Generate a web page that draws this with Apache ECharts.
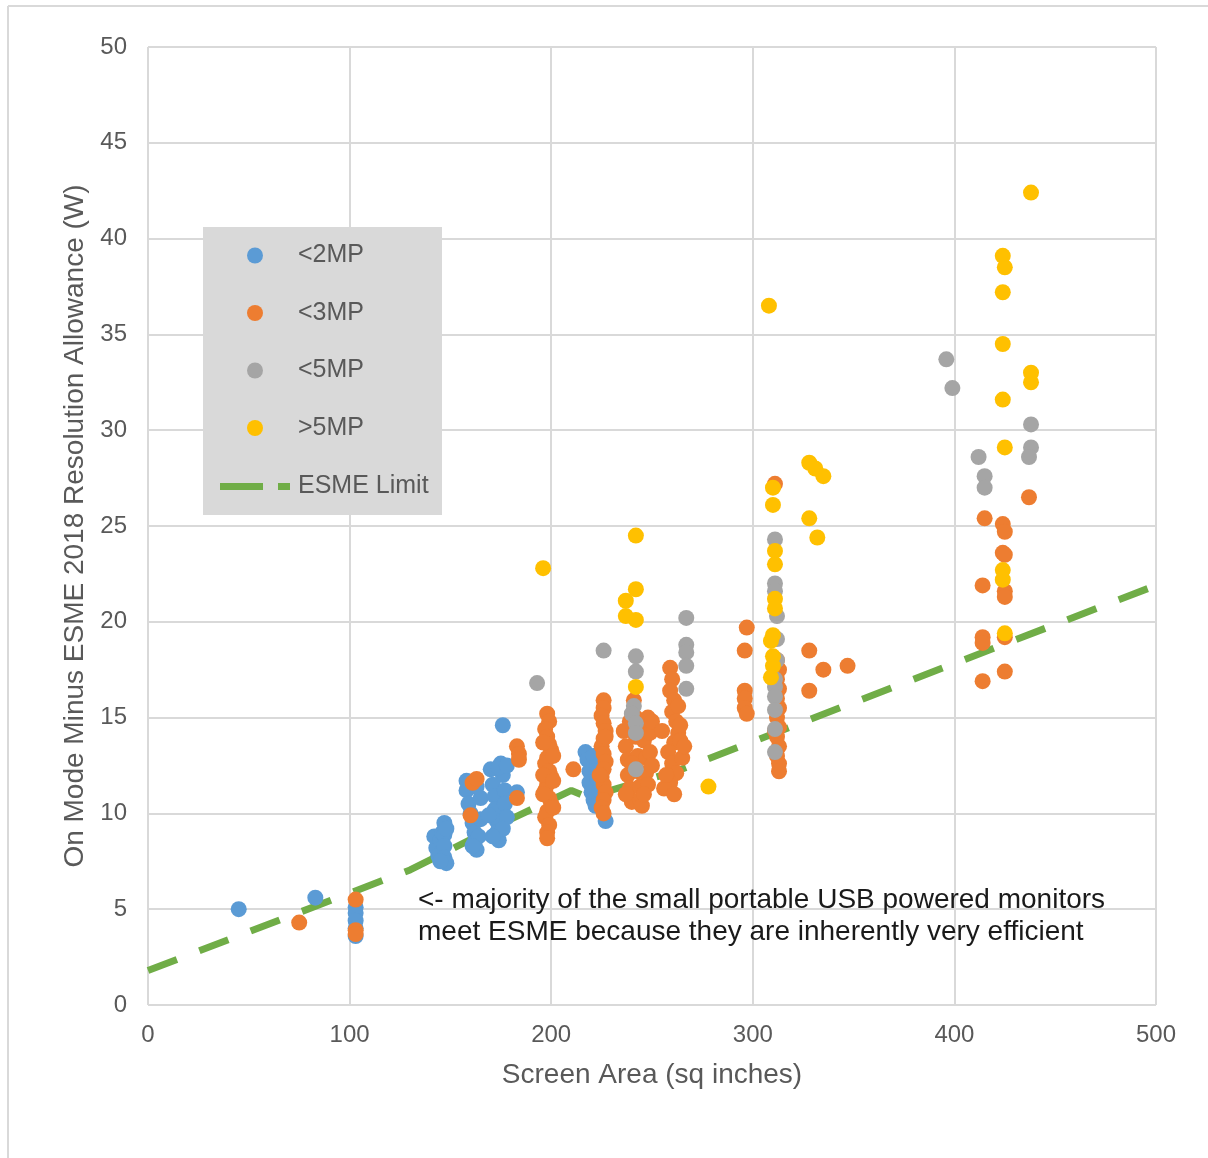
<!DOCTYPE html>
<html>
<head>
<meta charset="utf-8">
<script src="https://cdn.jsdelivr.net/npm/echarts@6/dist/echarts.min.js"></script>
<style>
html,body{margin:0;padding:0;background:#fff;}
#chart{width:1208px;height:1158px;}
</style>
</head>
<body>
<div id="chart"></div>
<script>
// ---- Data (screen area sq in, watts) ----
const seriesNames = ['<2MP', '<3MP', '<5MP', '>5MP'];
const legendLineName = 'ESME Limit';
const xTicks = [0, 100, 200, 300, 400, 500];
const yTicks = [0, 5, 10, 15, 20, 25, 30, 35, 40, 45, 50];

const under2MP = [
  [45,5.0],[83,5.6],[103,5.1],[103,4.8],[103,4.4],[103,4.0],[103,3.6],
  [142,8.8],[143,8.2],[144,7.8],[145,8.6],[146,9.0],[147,9.5],[147,8.9],[147,8.3],[147,7.7],[148,7.4],[145,7.5],[148,9.2],
  [158,11.7],[158,11.2],[159,10.5],[160,10.0],[161,9.5],[162,9.0],[162,8.5],[163,8.1],[164,8.8],[165,9.7],[165,10.8],[163,11.4],[161,8.3],
  [170,12.3],[171,11.5],[172,10.9],[172,10.2],[173,9.6],[173,9.0],[174,8.6],[175,12.6],[176,12.0],[177,11.2],[177,10.5],[178,9.8],[176,9.2],[174,12.4],[171,8.8],[169,9.9],[178,12.5],[176,14.6],
  [183,11.1],
  [217,13.2],[218,12.8],[219,12.2],[219,11.6],[220,11.1],[221,10.7],[222,10.4],[223,12.5],[223,11.8],[221,13.0],[224,11.2],[227,9.6]
];
const under3MP = [
  [75,4.3],[103,5.5],[103,3.9],[103,3.7],
  [161,11.6],[163,11.8],[160,9.9],
  [183,13.5],[184,13.1],[184,12.8],[183,10.8],
  [198,15.2],[199,14.8],[197,14.4],[198,14.0],[199,13.6],[200,13.3],[198,12.9],[197,12.6],[199,12.2],[200,11.9],[198,11.5],[197,11.2],[199,10.8],[200,10.5],[198,10.1],[197,9.8],[199,9.4],[198,9.0],[198,8.7],[196,12.0],[201,11.7],[201,13.0],[196,13.7],[201,10.3],[196,11.0],
  [211,12.3],
  [226,15.9],[226,15.5],[225,15.1],[226,14.7],[227,14.3],[226,13.9],[225,13.5],[226,13.1],[227,12.7],[226,12.3],[225,11.9],[226,11.5],[227,11.1],[226,10.7],[225,10.3],[226,10.0],[227,14.0],[224,12.0],
  [236,14.3],[237,13.5],[238,12.8],[238,12.0],[239,11.3],[240,10.6],[241,15.9],[242,15.0],[242,14.0],[243,13.0],[243,12.2],[244,11.4],[244,10.7],[245,14.6],[246,13.8],[247,12.9],[247,12.1],[248,11.5],[248,15.0],[249,14.2],[249,13.2],[250,12.5],[240,12.6],[237,11.0],[245,10.4],[250,14.8],[239,14.8],[246,11.0],
  [259,17.6],[260,17.0],[259,16.4],[261,15.9],[260,15.3],[262,14.8],[263,14.2],[261,13.7],[258,13.2],[260,12.6],[262,12.1],[259,11.6],[256,11.3],[264,13.8],[265,12.9],[264,14.6],[266,13.5],[263,15.6],[255,14.3],[257,12.0],[261,11.0],
  [297,19.7],[296,18.5],[296,16.4],[296,16.0],[296,15.5],[297,15.2],
  [311,27.2],[312,18.0],[313,17.5],[312,17.0],[313,16.5],[312,16.0],[313,15.5],[312,15.0],[313,14.5],[312,14.0],[313,13.5],[312,13.0],[313,12.6],[313,12.2],[311,17.2],[311,14.3],
  [328,18.5],[328,16.4],[335,17.5],[347,17.7],
  [415,25.4],[424,25.1],[425,24.7],[424,23.6],[425,23.5],[414,21.9],[425,21.6],[425,21.3],[414,19.2],[414,18.9],[425,19.2],[414,16.9],[425,17.4],[437,26.5]
];
const under5MP = [
  [193,16.8],[226,18.5],
  [242,18.2],[242,17.4],[241,15.6],[240,15.2],[242,14.7],[242,14.2],[242,12.3],
  [267,20.2],[267,18.8],[267,18.4],[267,17.7],[267,16.5],
  [311,24.3],[311,22.0],[311,21.6],[312,20.3],[312,19.1],[311,17.0],[311,16.6],[311,16.1],[311,15.4],[311,14.4],[311,13.2],[312,18.0],
  [396,33.7],[399,32.2],[412,28.6],[415,27.6],[415,27.0],[438,30.3],[438,29.1],[437,28.6]
];
const over5MP = [
  [196,22.8],
  [242,24.5],[242,21.7],[237,21.1],[237,20.3],[242,20.1],[242,16.6],
  [278,11.4],
  [308,36.5],
  [310,27.0],[310,26.1],[311,23.7],[311,23.0],[311,21.2],[311,20.7],[310,19.3],[309,19.0],[310,18.2],[310,17.7],[309,17.1],
  [328,28.3],[331,28.0],[335,27.6],[328,25.4],[332,24.4],
  [438,42.4],[424,39.1],[425,38.5],[424,37.2],[424,34.5],[438,33.0],[438,32.5],[424,31.6],[425,29.1],[424,22.7],[424,22.2],[425,19.4]
];
const esmeLimit = [[0,1.8],[130,7.05],[180,9.7],[192,10.3],[210,11.2],[218,10.85],[262,12.2],[500,21.9]];

const annotationLines = ['<- majority of the small portable USB powered monitors', 'meet ESME because they are inherently very efficient'];

// ---- Styles ----
const colors = ['#5B9BD5', '#ED7D31', '#A5A5A5', '#FFC000'];
const green = '#70AD47';
const font = '"Liberation Sans", Arial, sans-serif';
const textGray = '#595959';
const gridGray = '#D9D9D9';

const chart = echarts.init(document.getElementById('chart'), null, {renderer: 'canvas'});

const scatterData = [under2MP, under3MP, under5MP, over5MP];
const series = [{
  name: legendLineName,
  type: 'line',
  data: esmeLimit,
  symbol: 'none',
  z: 1,
  lineStyle: {color: green, width: 7, type: [31, 24], cap: 'butt'},
  itemStyle: {color: green},
  silent: true
}];
scatterData.forEach((d, i) => {
  series.push({
    name: seriesNames[i],
    type: 'scatter',
    data: d,
    symbol: 'circle',
    symbolSize: 16,
    z: 2 + i,
    itemStyle: {color: colors[i], opacity: 1}
  });
});

const legendText = {color: textGray, fontSize: 25, fontFamily: font};

const option = {
  backgroundColor: '#fff',
  animation: false,
  textStyle: {fontFamily: font},
  grid: {left: 148, right: 52, top: 47, bottom: 153, containLabel: false},
  xAxis: {
    type: 'value', min: 0, max: 500, interval: 100,
    name: 'Screen Area (sq inches)', nameLocation: 'middle', nameGap: 56,
    nameTextStyle: {color: textGray, fontSize: 28, fontFamily: font},
    axisLine: {show: false}, axisTick: {show: false},
    axisLabel: {color: textGray, fontSize: 24, margin: 18, fontFamily: font,
      formatter: v => xTicks.includes(v) ? String(v) : ''},
    splitLine: {show: true, lineStyle: {color: gridGray, width: 2}}
  },
  yAxis: {
    type: 'value', min: 0, max: 50, interval: 5,
    name: 'On Mode Minus ESME 2018 Resolution Allowance (W)', nameLocation: 'middle', nameGap: 57,
    nameTextStyle: {color: textGray, fontSize: 28, fontFamily: font},
    axisLine: {show: false}, axisTick: {show: false},
    axisLabel: {color: textGray, fontSize: 24, margin: 21, fontFamily: font,
      formatter: v => yTicks.includes(v) ? String(v) : ''},
    splitLine: {show: true, lineStyle: {color: gridGray, width: 2}}
  },
  legend: [{
    orient: 'vertical',
    left: 247, top: 243,
    itemWidth: 16, itemHeight: 16, itemGap: 32.5,
    padding: 0,
    textStyle: Object.assign({}, legendText, {padding: [0, 0, 0, 30]}),
    data: [
      {name: '<2MP', icon: 'circle'},
      {name: '<3MP', icon: 'circle'},
      {name: '<5MP', icon: 'circle'},
      {name: '>5MP', icon: 'circle'}
    ],
    selectedMode: false
  }, {
    orient: 'vertical',
    left: 220, top: 474,
    itemWidth: 70, itemHeight: 7,
    padding: 0,
    textStyle: Object.assign({}, legendText, {padding: [0, 0, 0, 3]}),
    data: [{name: 'ESME Limit', icon: 'path://M0,0H43V7H0Z M58,0H70V7H58Z'}],
    selectedMode: false
  }],
  graphic: [
    {type: 'line', z: 0, shape: {x1: 8, y1: 6, x2: 1208, y2: 6}, style: {stroke: gridGray, lineWidth: 2}},
    {type: 'line', z: 0, shape: {x1: 8, y1: 6, x2: 8, y2: 1158}, style: {stroke: gridGray, lineWidth: 2}},
    {type: 'rect', z: 1, shape: {x: 203, y: 227, width: 239, height: 288}, style: {fill: '#D9D9D9'}},
    {type: 'text', z: 5, left: 418, top: 884,
      style: {text: annotationLines.join('\n'), font: '28px ' + font, fill: '#1a1a1a', lineHeight: 32}}
  ],
  series: series
};
chart.setOption(option);
</script>
</body>
</html>
